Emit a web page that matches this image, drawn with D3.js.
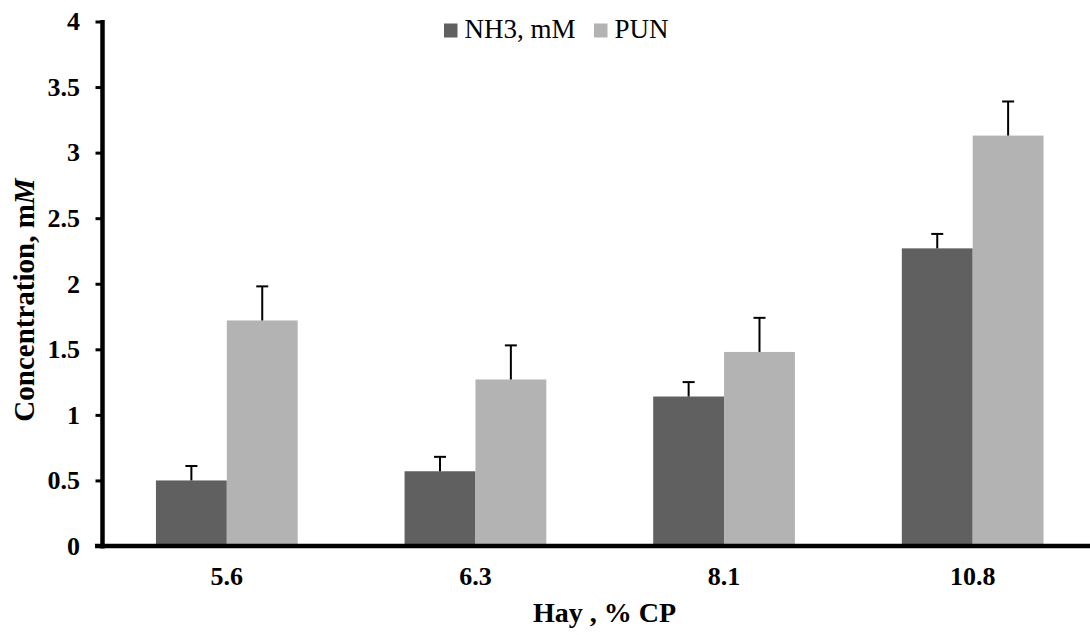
<!DOCTYPE html>
<html>
<head>
<meta charset="utf-8">
<script src="https://cdn.jsdelivr.net/npm/d3@7"></script>
<style>
  html, body { margin: 0; padding: 0; background: #fff; }
  svg { display: block; }
  text { font-family: "Liberation Serif", "Times New Roman", serif; fill: #000; }
</style>
</head>
<body>
<svg id="chart" width="1090" height="635"></svg>
<script>
// Crude protein levels of hay (x categories)
const categories = ["5.6", "6.3", "8.1", "10.8"];
// Series names
const seriesNames = ["NH3, mM", "PUN"];
// Mean concentrations, mM
const nh3Values = [0.50, 0.57, 1.14, 2.27];
const punValues = [1.72, 1.27, 1.48, 3.13];
// Upper error (SE) for each bar
const nh3Errors = [0.11, 0.11, 0.11, 0.11];
const punErrors = [0.26, 0.26, 0.26, 0.26];
// Y axis tick values and labels
const yTicks = [0, 0.5, 1, 1.5, 2, 2.5, 3, 3.5, 4];
const yTickLabels = ["0", "0.5", "1", "1.5", "2", "2.5", "3", "3.5", "4"];

const colors = ["#606060", "#b3b3b3"];

const svg = d3.select("#chart");
const x0 = 102.5, yZero = 546, yTop = 21.5;

const x = d3.scaleBand()
  .domain(categories)
  .range([x0, 1097])
  .paddingInner(0.43)
  .paddingOuter(0.215);

const xs = d3.scaleBand()
  .domain(seriesNames)
  .range([0, x.bandwidth()]);

const y = d3.scaleLinear().domain([0, 4]).range([yZero, yTop]);

const rows = categories.map((c, i) => ({
  cat: c,
  vals: [
    { s: seriesNames[0], v: nh3Values[i], e: nh3Errors[i], color: colors[0] },
    { s: seriesNames[1], v: punValues[i], e: punErrors[i], color: colors[1] }
  ]
}));

// Bars
const groups = svg.append("g").selectAll("g")
  .data(rows).join("g")
  .attr("transform", d => `translate(${x(d.cat)},0)`);

groups.selectAll("rect")
  .data(d => d.vals).join("rect")
  .attr("x", d => xs(d.s))
  .attr("y", d => y(d.v))
  .attr("width", xs.bandwidth())
  .attr("height", d => y(0) - y(d.v))
  .attr("fill", d => d.color);

// Error bars (upper only)
const errs = groups.selectAll("g.err")
  .data(d => d.vals).join("g").attr("class", "err");
errs.append("line")
  .attr("x1", d => xs(d.s) + xs.bandwidth() / 2)
  .attr("x2", d => xs(d.s) + xs.bandwidth() / 2)
  .attr("y1", d => y(d.v))
  .attr("y2", d => y(d.v + d.e))
  .attr("stroke", "#000").attr("stroke-width", 2);
errs.append("line")
  .attr("x1", d => xs(d.s) + xs.bandwidth() / 2 - 6)
  .attr("x2", d => xs(d.s) + xs.bandwidth() / 2 + 6)
  .attr("y1", d => y(d.v + d.e))
  .attr("y2", d => y(d.v + d.e))
  .attr("stroke", "#000").attr("stroke-width", 2);

// Y axis
const yAxis = d3.axisLeft(y)
  .tickValues(yTicks)
  .tickFormat((d, i) => yTickLabels[i])
  .tickSize(7)
  .tickPadding(15.5);
const gy = svg.append("g").attr("transform", `translate(${x0},0)`).call(yAxis);
gy.select(".domain").remove();
gy.selectAll(".tick line").attr("stroke", "#000").attr("stroke-width", 3);
gy.selectAll(".tick text")
  .attr("font-size", 26).attr("font-weight", "bold").attr("fill", "#000");
svg.append("line")
  .attr("x1", x0).attr("x2", x0)
  .attr("y1", y(4) - 1.5).attr("y2", yZero + 2.5)
  .attr("stroke", "#000").attr("stroke-width", 4.5);

// X axis
const xAxis = d3.axisBottom(x).tickSize(0);
const gx = svg.append("g").attr("transform", `translate(0,${yZero})`).call(xAxis);
gx.select(".domain").remove();
gx.selectAll(".tick text")
  .attr("y", 39).attr("dy", 0)
  .attr("font-size", 26).attr("font-weight", "bold").attr("fill", "#000");
svg.append("line")
  .attr("x1", 95).attr("x2", 1090)
  .attr("y1", yZero).attr("y2", yZero)
  .attr("stroke", "#000").attr("stroke-width", 4.5);

// Axis titles
svg.append("text")
  .attr("x", 604.5).attr("y", 622)
  .attr("text-anchor", "middle")
  .attr("font-size", 28).attr("font-weight", "bold")
  .text("Hay , % CP");

const yt = svg.append("text")
  .attr("transform", "translate(34,300) rotate(-90)")
  .attr("text-anchor", "middle")
  .attr("font-size", 29).attr("font-weight", "bold");
yt.append("tspan").text("Concentration, m");
yt.append("tspan").attr("font-style", "italic").text("M");

// Legend
const legend = svg.append("g");
const legendX = [444, 594];
seriesNames.forEach((s, i) => {
  legend.append("rect")
    .attr("x", legendX[i]).attr("y", 23.5)
    .attr("width", 13.5).attr("height", 14)
    .attr("fill", colors[i]);
  legend.append("text")
    .attr("x", legendX[i] + 20.5).attr("y", 38.3)
    .attr("font-size", 27)
    .text(s);
});
</script>
</body>
</html>
